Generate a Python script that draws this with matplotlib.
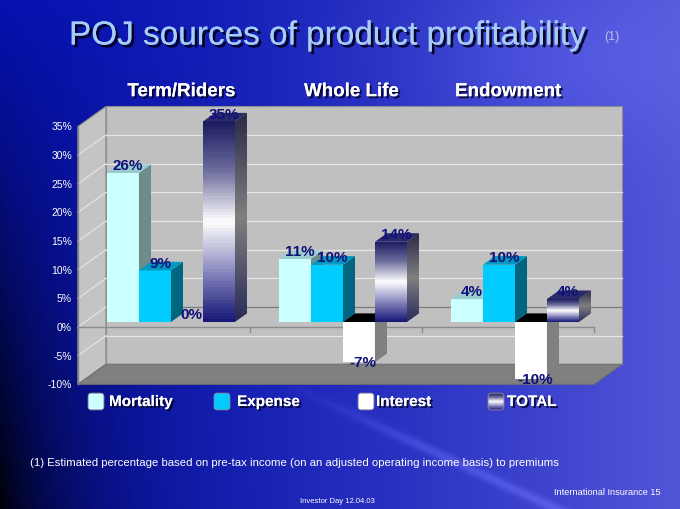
import numpy as np
import matplotlib.pyplot as plt
from matplotlib.patches import Polygon, FancyBboxPatch
from matplotlib.colors import LinearSegmentedColormap, to_rgb
import matplotlib.patheffects as pe

plt.rcParams['font.family'] = ['Liberation Sans', 'DejaVu Sans']

# data
groups = ['Term/Riders', 'Whole Life', 'Endowment']
series = ['Mortality', 'Expense', 'Interest', 'TOTAL']
mortality = [26, 11, 4]
expense = [9, 10, 10]
interest = [0, -7, -10]
total = [35, 14, 4]
ytick_vals = [-10, -5, 0, 5, 10, 15, 20, 25, 30, 35]

# pseudo 3d geometry (data units)
W = 0.186          # bar width
DX, DY = 0.163, 3.49   # full depth of the box
D_FRONT, D_BACK = -0.25, 0.75
BAR_DEPTH = 0.43
X0, X1 = -0.5, 2.5
YB, YT = -10, 35

navy = '#10107a'
shadow = [pe.withSimplePatchShadow(offset=(1.5, -1.5), shadow_rgbFace='#000020', alpha=0.8), pe.Normal()]

fig = plt.figure(figsize=(6.8, 5.1), dpi=100)

# background
H, Wd = 510, 680
yy, xx = np.mgrid[0:H, 0:Wd]
t = xx / Wd
c_left = np.array(to_rgb('#0612b0'))
c_right = np.array(to_rgb('#5256d8'))
img = c_left + (c_right - c_left) * (t ** 1.4)[..., None]
dark = (yy / H) ** 1.1 * np.exp(-xx / 85.0)
img = img * (1 - 0.95 * dark)[..., None]
# light streak bottom right, fading in towards the bottom
dist = np.abs((yy - 440) - 0.467 * (xx - 407)) / np.sqrt(1 + 0.467 ** 2)
fade = np.clip((yy - 380) / 70.0, 0, 1)
streak = 0.10 * np.exp(-(dist / 5.0) ** 2) * fade
glow = 0.06 * np.exp(-(((xx - 560) / 160.0) ** 2 + ((yy - 60) / 90.0) ** 2))
img = np.clip(img + (streak + glow)[..., None], 0, 1)
bg = fig.add_axes([0, 0, 1, 1])
bg.imshow(img, aspect='auto', extent=[0, 1, 0, 1], origin='upper')
bg.axis('off')

ax = fig.add_axes([60 / 680, (510 - 395) / 510, 580 / 680, 295 / 510])
ax.axis('off')


def shift(pts, d):
    return [(x + d * DX, y + d * DY) for x, y in pts]


# walls
back = shift([(X0, YB), (X1, YB), (X1, YT), (X0, YT)], D_BACK)
left = shift([(X0, YB), (X0, YT)], D_FRONT) + shift([(X0, YT), (X0, YB)], D_BACK)
floor = shift([(X0, YB), (X1, YB)], D_FRONT) + shift([(X1, YB), (X0, YB)], D_BACK)
ax.add_patch(Polygon(back, fc='#c0c0c0', ec='#8c8c8c', lw=0.8, zorder=1))
ax.add_patch(Polygon(left, fc='#c4c4c4', ec='#8c8c8c', lw=0.8, zorder=1))
ax.add_patch(Polygon(floor, fc='#808080', ec='#707070', lw=0.8, zorder=2))

for v in ytick_vals[1:-1]:
    col = '#7a7a7a' if v == 0 else '#e6e6e6'
    p = shift([(X0, v), (X1, v)], D_BACK)
    ax.plot([p[0][0], p[1][0]], [p[0][1], p[1][1]], color=col, lw=0.9, zorder=3)
    q = shift([(X0, v)], D_FRONT) + shift([(X0, v)], D_BACK)
    ax.plot([q[0][0], q[1][0]], [q[0][1], q[1][1]], color='#e6e6e6', lw=0.8, zorder=3)

# front axes
fa = shift([(X0, 0), (X1, 0)], D_FRONT)
ax.plot([fa[0][0], fa[1][0]], [fa[0][1], fa[1][1]], color='#8a8a8a', lw=1, zorder=4)
for g in range(len(groups) + 1):
    tk = shift([(X0 + g, 0), (X0 + g, -0.8)], D_FRONT)
    ax.plot([tk[0][0], tk[1][0]], [tk[0][1], tk[1][1]], color='#8a8a8a', lw=1, zorder=4)
la = shift([(X0, YB), (X0, YT)], D_FRONT)
ax.plot([la[0][0], la[1][0]], [la[0][1], la[1][1]], color='#8a8a8a', lw=1, zorder=4)
for v in ytick_vals:
    px, py = shift([(X0, v)], D_FRONT)[0]
    ax.text(px - 0.035, py, f'{v}%', ha='right', va='center', fontsize=7.5, color='white', zorder=5)

total_cmap = LinearSegmentedColormap.from_list('tot', ['#181878', '#8a8ac0', '#ffffff', '#7070a0', '#1c1c60'])
side_cmap = LinearSegmentedColormap.from_list('tside', ['#2a2a58', '#808080', '#2a2a48'])

styles = {
    'Mortality': ('#ccffff', '#6e8c8c', '#99cccc'),
    'Expense': ('#00ccff', '#006680', '#0099c0'),
    'Interest': ('#ffffff', '#808080', '#000000'),
    'TOTAL': (None, None, '#2a2a6a'),
}
values = {'Mortality': mortality, 'Expense': expense, 'Interest': interest, 'TOTAL': total}

z = 10
grad = np.linspace(0, 1, 64).reshape(-1, 1)
for g in range(len(groups)):
    for i, name in enumerate(series):
        v = values[name][g]
        x = g - 2 * W + i * W
        front, side, top = styles[name]
        if v == 0:
            ax.text(x + W / 2 + 0.025, 0.1, f'{v}%', ha='center', va='bottom',
                    fontsize=11, fontweight='bold', color=navy, zorder=100)
            continue
        y0, y1 = min(0, v), max(0, v)
        bar = ax.bar(x, v, width=W, align='edge', color=front if front else 'none',
                     lw=0, zorder=z)[0]
        if name == 'TOTAL':
            im = ax.imshow(grad, extent=[x, x + W, y0, y1], cmap=total_cmap, origin='lower',
                           aspect='auto', zorder=z)
            im.set_clip_path(bar)
        sp = [(x + W, y0), (x + W, y1)] + shift([(x + W, y1), (x + W, y0)], BAR_DEPTH)
        if name == 'TOTAL':
            sidep = Polygon(sp, fc='none', lw=0, zorder=z + 1)
            ax.add_patch(sidep)
            im2 = ax.imshow(grad, extent=[x + W, x + W + BAR_DEPTH * DX, y0, y1 + BAR_DEPTH * DY],
                            cmap=side_cmap, origin='lower', aspect='auto', zorder=z + 1)
            im2.set_clip_path(sidep)
        else:
            ax.add_patch(Polygon(sp, fc=side, lw=0, zorder=z + 1))
        tp = [(x, y1), (x + W, y1)] + shift([(x + W, y1), (x, y1)], BAR_DEPTH)
        ax.add_patch(Polygon(tp, fc=top, lw=0, zorder=z + 1))
        z += 2
        if v > 0:
            ax.text(x + W / 2 + 0.03, v + 0.1, f'{v}%', ha='center', va='bottom',
                    fontsize=11, fontweight='bold', color=navy, zorder=100)
        else:
            ax.text(x + W / 2 + 0.025, v + 0.1, f'{v}%', ha='center', va='center',
                    fontsize=11, fontweight='bold', color=navy, zorder=100)

cat_dx = [0.06, 0.05, -0.04]
for g, name in enumerate(groups):
    ax.text(g + cat_dx[g], 40.2, name, ha='center', va='center', fontsize=13.5,
            fontweight='bold', color='white', path_effects=shadow, zorder=100)

ax.set_xlim(-0.645, 2.727)
ax.set_ylim(-12.57, 38.92)

# legend
sw_left = [87, 213, 357, 487]
tx_left = [109, 237, 376, 507]
leg_colors = ['#ccffff', '#00ccff', '#ffffff', None]
for k, name in enumerate(series):
    sax = fig.add_axes([sw_left[k] / 680, (510 - 412) / 510, 18 / 680, 19 / 510])
    sax.set_xlim(0, 1)
    sax.set_ylim(0, 1)
    sax.axis('off')
    box = FancyBboxPatch((0.06, 0.06), 0.88, 0.88, boxstyle='round,pad=0,rounding_size=0.18',
                         fc=leg_colors[k] if leg_colors[k] else 'none', ec='#9090a0', lw=0.6)
    sax.add_patch(box)
    if leg_colors[k] is None:
        im = sax.imshow(grad, extent=[0.06, 0.94, 0.06, 0.94], cmap=total_cmap, origin='lower',
                        aspect='auto')
        im.set_clip_path(box)
        sax.set_xlim(0, 1)
        sax.set_ylim(0, 1)
    fig.text(tx_left[k] / 680, 1 - 403 / 510, name, ha='left', va='center', fontsize=11,
             fontweight='bold', color='white', path_effects=shadow)

# titles and notes
fig.text(69 / 680, 1 - 45.5 / 510, 'POJ sources of product profitability', ha='left', va='baseline',
         fontsize=24, color='#a6ccf8',
         path_effects=[pe.withSimplePatchShadow(offset=(2, -2), shadow_rgbFace='#000018', alpha=0.9), pe.Normal()])
fig.text(604 / 680, 1 - 37 / 510, '(1)', ha='left', va='center', fontsize=9, color='#b8c0e8')
fig.text(30 / 680, 1 - 463 / 510,
         '(1) Estimated percentage based on pre-tax income (on an adjusted operating income basis) to premiums',
         ha='left', va='center', fontsize=8.2, color='white')
fig.text(337 / 680, 1 - 502 / 510, 'Investor Day 12.04.03', ha='center', va='center', fontsize=5.5,
         color='white')
fig.text(661 / 680, 1 - 493 / 510, 'International Insurance 15', ha='right', va='center', fontsize=6.6,
         color='white')

fig.savefig('out.png', dpi=100)
